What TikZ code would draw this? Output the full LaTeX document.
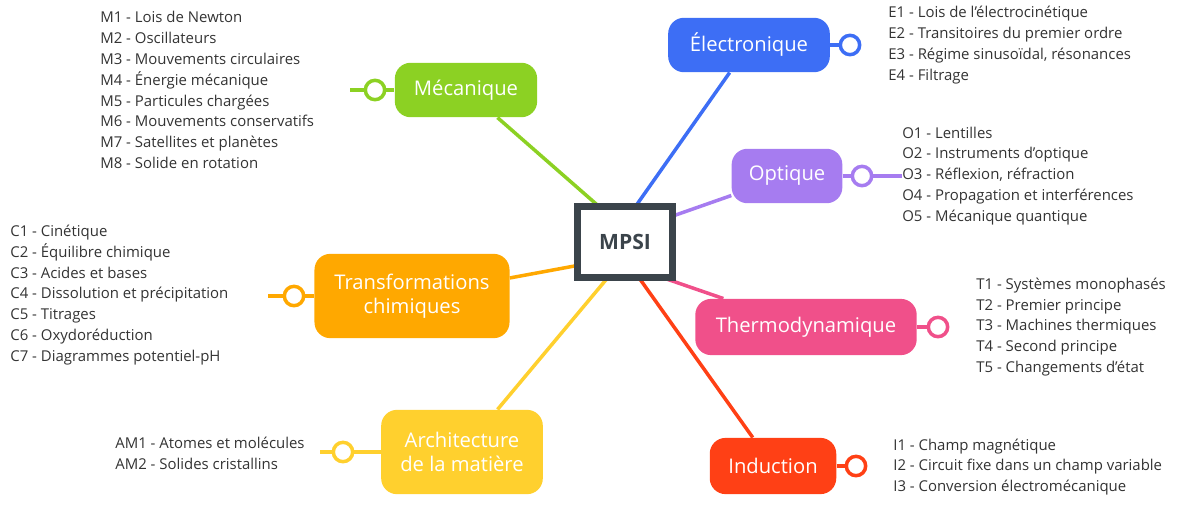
\documentclass[tikz,border=0pt]{standalone}
\usepackage{fontspec}
\setmainfont{Open Sans}
\usetikzlibrary{positioning}
\definecolor{cmeca}{HTML}{8CD123}
\definecolor{celec}{HTML}{3D6EF5}
\definecolor{copt}{HTML}{A67CF0}
\definecolor{cchim}{HTML}{FFA800}
\definecolor{cthermo}{HTML}{F0508A}
\definecolor{carchi}{HTML}{FFD02E}
\definecolor{cind}{HTML}{FF4015}
\definecolor{cdark}{HTML}{3B444B}
\tikzset{
  topic/.style={rounded corners=9pt,fill=#1,text=white,align=center,inner sep=0pt,
    font=\fontsize{11.5}{14}\selectfont},
  knob/.style={circle,draw=#1,fill=white,line width=2pt,minimum size=11pt,inner sep=0pt},
  leaves/.style={align=left,inner sep=0pt,text=black!80,font=\fontsize{8.5}{11.9}\selectfont},
  branch/.style={draw=#1,line width=2pt},
  centrebox/.style={draw=cdark,line width=4pt,fill=white,minimum width=54pt,minimum height=40pt,
    inner sep=0pt,text=cdark,font=\bfseries\fontsize{12}{14}\selectfont}
}
\begin{document}
\begin{tikzpicture}[x=0.02cm,y=-0.02cm]
\useasboundingbox (0,0) rectangle (1197,507);
% centre
\node (mpsi) [centrebox] at (625,242) {MPSI};
% topics
\node (meca) [topic=cmeca,minimum width=81pt,minimum height=31pt] at (466,90) {Mécanique};
\node (elec) [topic=celec,minimum width=92pt,minimum height=31pt] at (749,45) {Électronique};
\node (opt) [topic=copt,minimum width=63pt,minimum height=31pt] at (787,176) {Optique};
\node (chim) [topic=cchim,minimum width=111pt,minimum height=48pt] at (412,296) {Transformations\\chimiques};
\node (thermo) [topic=cthermo,minimum width=126pt,minimum height=32pt] at (806,327) {Thermodynamique};
\node (archi) [topic=carchi,minimum width=92pt,minimum height=48pt] at (462,452) {Architecture\\de la matière};
\node (ind) [topic=cind,minimum width=72pt,minimum height=32pt] at (773,466) {Induction};
% knobs
\node (kmeca) [knob=cmeca] at (375,90) {};
\node (kelec) [knob=celec] at (850,45) {};
\node (kopt) [knob=copt] at (862,176) {};
\node (kchim) [knob=cchim] at (294,296) {};
\node (kthermo) [knob=cthermo] at (938,327) {};
\node (karchi) [knob=carchi] at (343,452) {};
\node (kind) [knob=cind] at (856,466) {};
% leaves
\node (lmeca) [leaves,anchor=west] at (100,90) {M1 - Lois de Newton\\M2 - Oscillateurs\\M3 - Mouvements circulaires\\M4 - Énergie mécanique\\M5 - Particules chargées\\M6 - Mouvements conservatifs\\M7 - Satellites et planètes\\M8 - Solide en rotation};
\node (lelec) [leaves,anchor=west] at (888,45) {E1 - Lois de l'électrocinétique\\E2 - Transitoires du premier ordre\\E3 - Régime sinusoïdal, résonances\\E4 - Filtrage};
\node (lopt) [leaves,anchor=west] at (902,176) {O1 - Lentilles\\O2 - Instruments d'optique\\O3 - Réflexion, réfraction\\O4 - Propagation et interférences\\O5 - Mécanique quantique};
\node (lchim) [leaves,anchor=west] at (10,295) {C1 - Cinétique\\C2 - Équilibre chimique\\C3 - Acides et bases\\C4 - Dissolution et précipitation\\C5 - Titrages\\C6 - Oxydoréduction\\C7 - Diagrammes potentiel-pH};
\node (lthermo) [leaves,anchor=west] at (976,327) {T1 - Systèmes monophasés\\T2 - Premier principe\\T3 - Machines thermiques\\T4 - Second principe\\T5 - Changements d'état};
\node (larchi) [leaves,anchor=west] at (115,453) {AM1 - Atomes et molécules\\AM2 - Solides cristallins};
\node (lind) [leaves,anchor=west] at (893,467) {I1 - Champ magnétique\\I2 - Circuit fixe dans un champ variable\\I3 - Conversion électromécanique};
% stubs
\coordinate (smeca) at (350,90);
\coordinate (schim) at (268,296);
\coordinate (sarchi) at (320,452);
% line ends on the centre box
\coordinate (a1) at (603,210);
\coordinate (a2) at (633,210);
\coordinate (a3) at (670,217);
\coordinate (a4) at (580,265);
\coordinate (a5) at (655,275);
\coordinate (a6) at (610,275);
\coordinate (a7) at (637,275);
% connectors
\draw [branch=cmeca] (a1) -- (meca);
\draw [branch=celec] (a2) -- (elec);
\draw [branch=copt] (a3) -- (opt);
\draw [branch=cchim] (a4) -- (chim);
\draw [branch=cthermo] (a5) -- (thermo);
\draw [branch=carchi] (a6) -- (archi);
\draw [branch=cind] (a7) -- (ind);
\draw [branch=cmeca] (smeca) -- (kmeca) -- (meca);
\draw [branch=celec] (elec) -- (kelec);
\draw [branch=copt] (opt) -- (kopt) -- (lopt);
\draw [branch=cchim] (schim) -- (kchim) -- (chim);
\draw [branch=cthermo] (thermo) -- (kthermo);
\draw [branch=carchi] (sarchi) -- (karchi) -- (archi);
\draw [branch=cind] (ind) -- (kind);
% centre again, over the line ends
\node [centrebox] at (mpsi) {MPSI};
\end{tikzpicture}
\end{document}
